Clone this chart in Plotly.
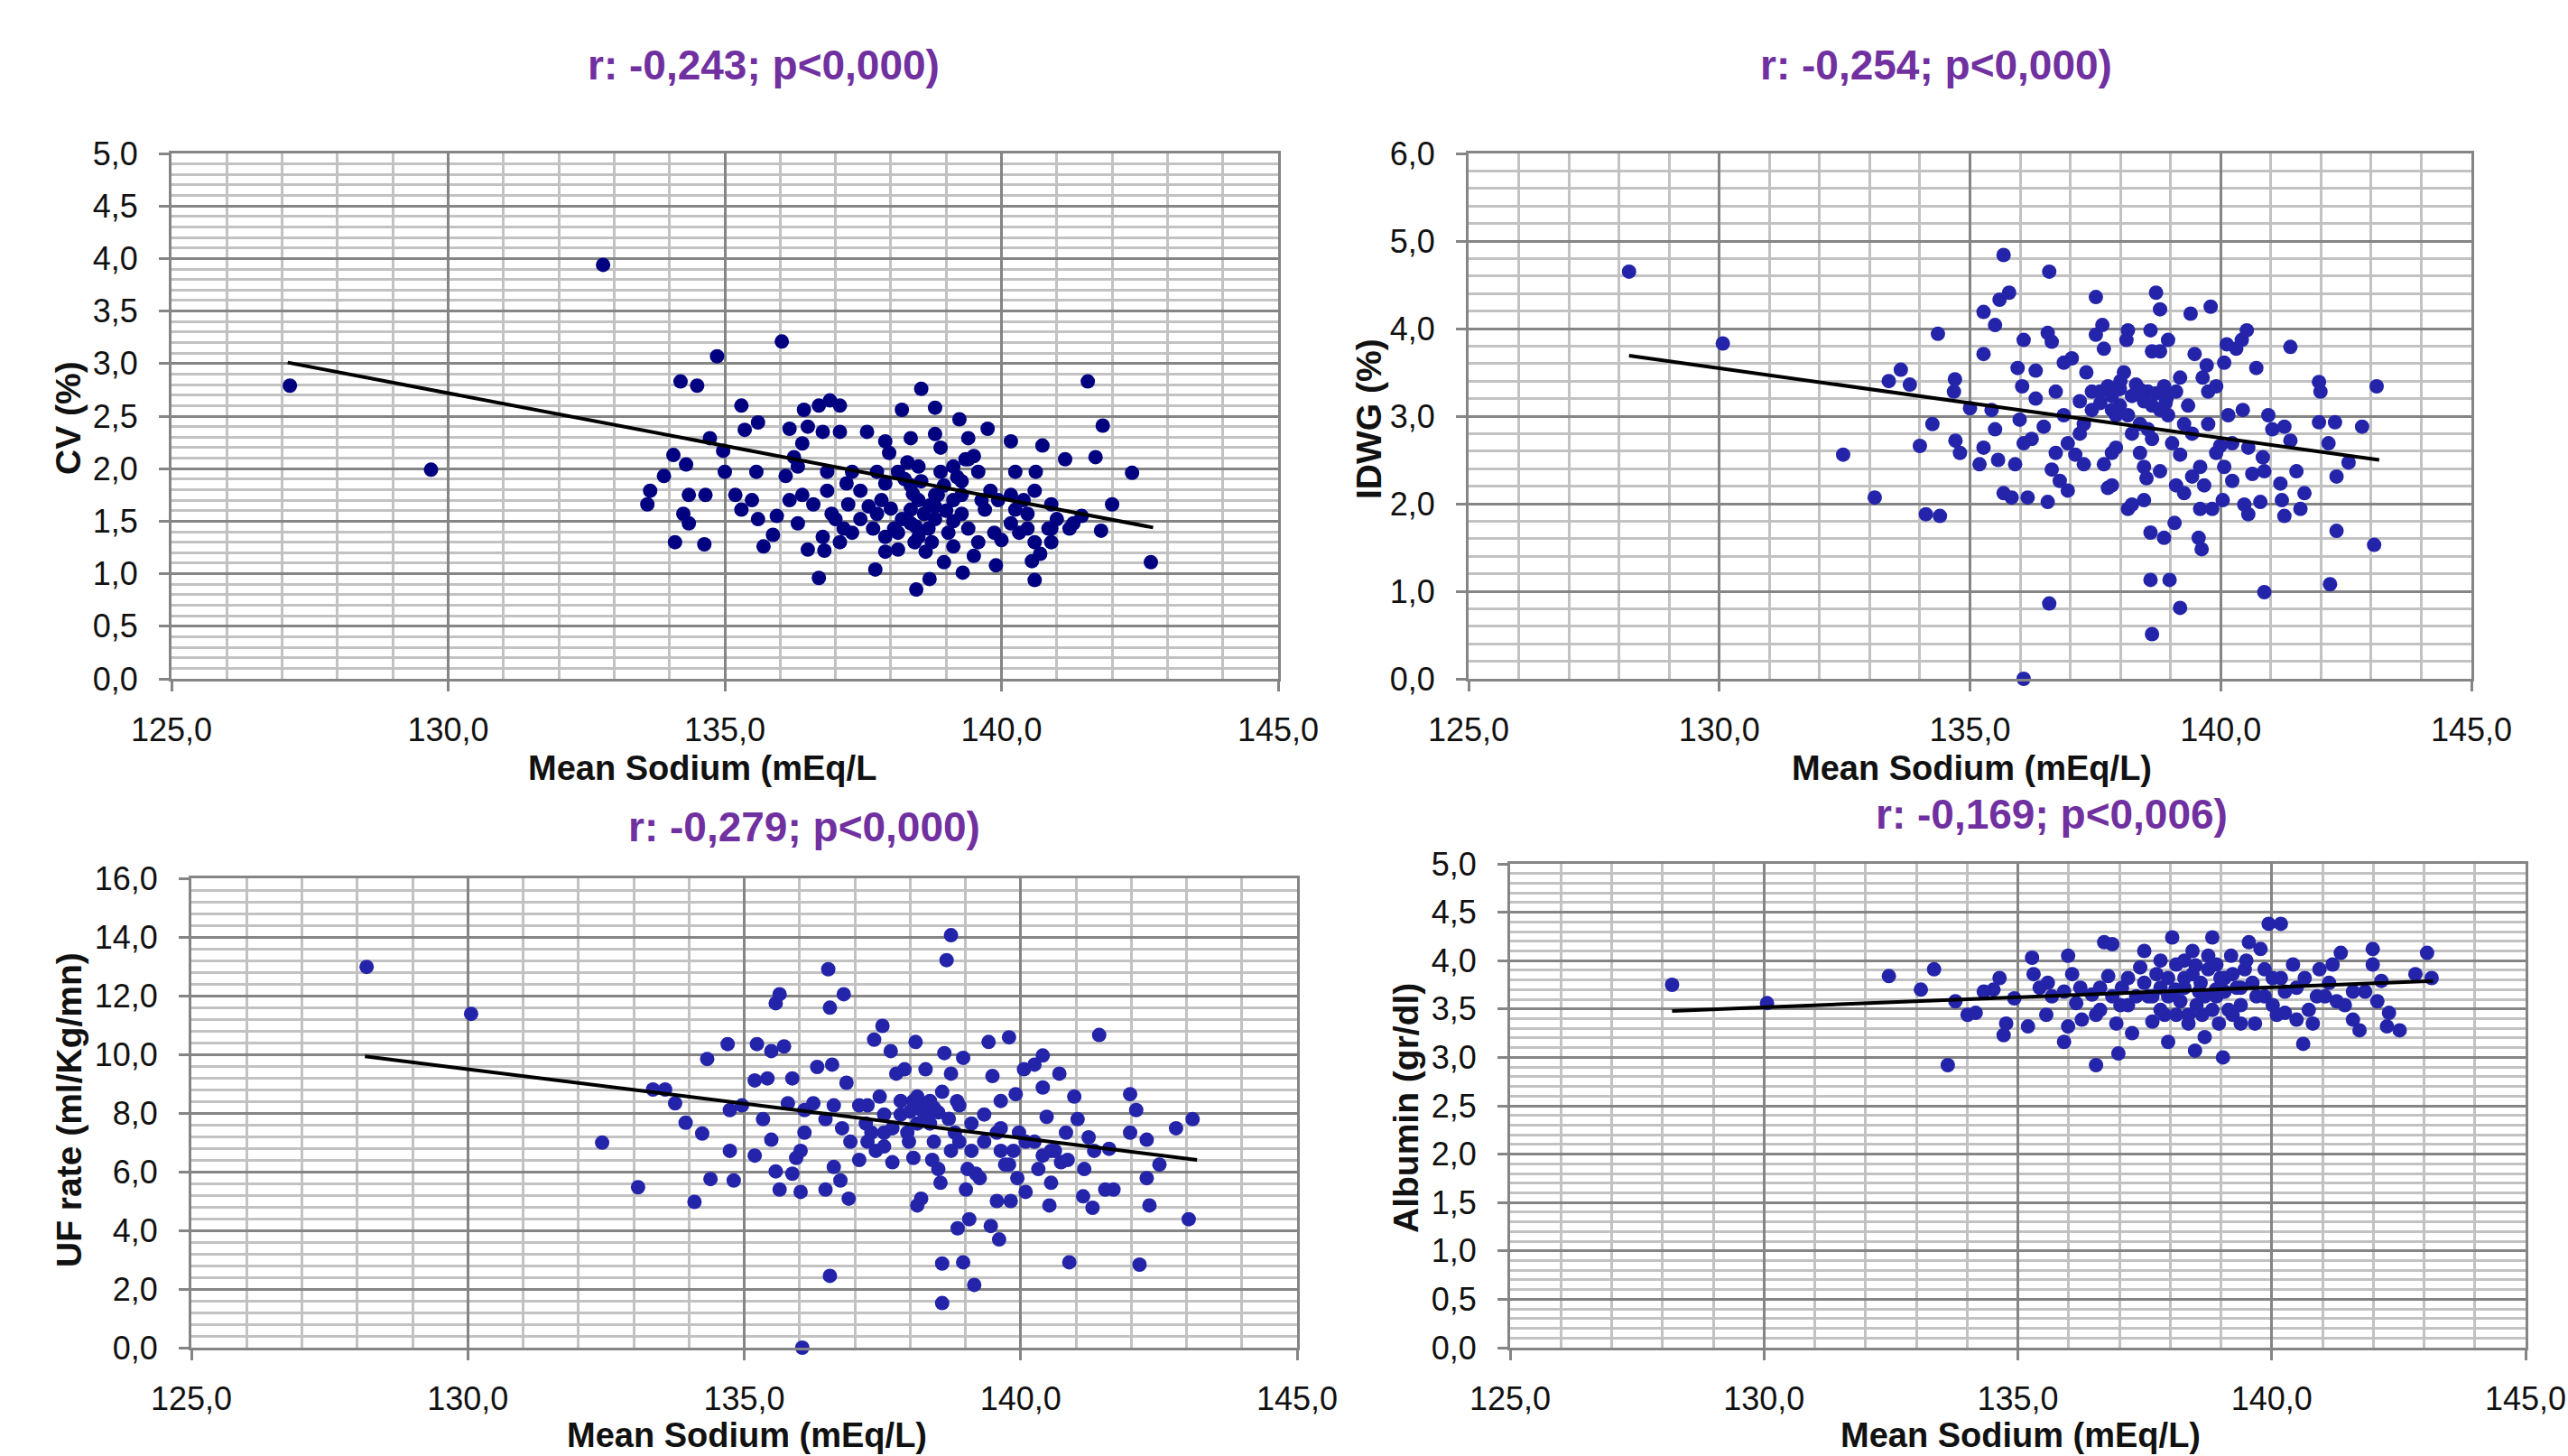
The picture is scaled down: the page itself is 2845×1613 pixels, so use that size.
import plotly.graph_objects as go

# ---------------- DATA ----------------
na_tickvals = [125, 130, 135, 140, 145]
na_ticktext = ["125,0", "130,0", "135,0", "140,0", "145,0"]

cv_tickvals = [0, 0.5, 1, 1.5, 2, 2.5, 3, 3.5, 4, 4.5, 5]
cv_ticktext = ["0,0", "0,5", "1,0", "1,5", "2,0", "2,5", "3,0", "3,5", "4,0", "4,5", "5,0"]
idwg_tickvals = [0, 1, 2, 3, 4, 5, 6]
idwg_ticktext = ["0,0", "1,0", "2,0", "3,0", "4,0", "5,0", "6,0"]
uf_tickvals = [0, 2, 4, 6, 8, 10, 12, 14, 16]
uf_ticktext = ["0,0", "2,0", "4,0", "6,0", "8,0", "10,0", "12,0", "14,0", "16,0"]
alb_tickvals = [0, 0.5, 1, 1.5, 2, 2.5, 3, 3.5, 4, 4.5, 5]
alb_ticktext = ["0,0", "0,5", "1,0", "1,5", "2,0", "2,5", "3,0", "3,5", "4,0", "4,5", "5,0"]

titles = ["r: -0,243; p<0,000)", "r: -0,254; p<0,000)", "r: -0,279; p<0,000)", "r: -0,169; p<0,006)"]
x_titles = ["Mean Sodium (mEq/L", "Mean Sodium (mEq/L)", "Mean Sodium (mEq/L)", "Mean Sodium (mEq/L)"]
y_titles = ["CV (%)", "IDWG (%)", "UF rate (ml/Kg/mn)", "Albumin (gr/dl)"]

# (mean sodium, value) pairs
cv_pts = [
    (127.14, 2.79), (129.69, 1.99), (132.8, 3.94), (136.03, 3.21), (134.86, 3.07), (134.2, 2.83),
    (134.5, 2.79), (138.55, 2.76), (141.56, 2.83), (141.83, 2.41), (142.36, 1.96), (142.7, 1.11),
    (138.46, 0.85), (136.7, 0.96), (137.72, 1.04), (138.7, 0.95), (139.3, 1.01), (139.9, 1.08),
    (140.6, 0.94), (138.96, 1.11), (134.1, 1.30), (134.63, 1.28), (133.6, 1.66), (133.65, 1.79),
    (133.9, 1.93), (134.07, 2.13), (134.3, 2.04), (134.35, 1.75), (134.25, 1.57), (134.35, 1.48),
    (134.65, 1.75), (134.73, 2.29), (134.97, 2.17), (135.0, 1.97), (135.3, 2.60), (135.36, 2.37),
    (135.6, 2.44), (135.57, 1.97), (135.19, 1.75), (135.3, 1.61), (135.6, 1.52), (135.7, 1.26),
    (135.87, 1.37), (135.94, 1.55), (136.17, 2.38), (136.25, 2.11), (136.4, 2.24), (136.43, 2.56),
    (136.5, 2.40), (136.7, 2.60), (136.9, 2.65), (137.08, 2.60), (136.77, 2.35), (137.08, 2.35),
    (137.57, 2.35), (138.2, 2.56), (138.8, 2.58), (139.24, 2.47), (139.75, 2.38), (140.17, 2.26),
    (140.74, 2.22), (141.15, 2.09), (141.7, 2.11), (137.9, 2.26), (137.97, 2.15), (138.9, 2.20),
    (139.35, 2.09), (139.5, 2.12), (136.1, 1.93), (136.4, 1.75), (136.32, 1.48), (136.5, 1.23),
    (136.77, 1.35), (137.08, 1.30), (137.0, 1.52), (137.23, 1.66), (137.45, 1.79), (137.75, 1.97),
    (137.9, 1.86), (138.13, 1.97), (138.36, 1.84), (138.5, 1.70), (138.6, 1.57), (138.68, 1.43),
    (138.74, 1.30), (138.63, 1.21), (138.13, 1.23), (137.9, 1.35), (137.68, 1.43), (137.45, 1.52),
    (137.3, 1.39), (138.2, 1.52), (138.36, 1.61), (138.9, 1.97), (138.96, 1.84), (139.13, 1.70),
    (139.28, 1.57), (139.4, 1.43), (139.58, 1.30), (139.5, 1.17), (139.13, 1.26), (139.7, 1.61),
    (139.94, 1.70), (140.17, 1.75), (140.4, 1.70), (140.6, 1.79), (140.9, 1.66), (141.0, 1.52),
    (140.85, 1.43), (140.6, 1.30), (140.47, 1.43), (140.17, 1.48), (140.0, 1.32), (140.7, 1.19),
    (140.9, 1.30), (141.3, 1.48), (141.45, 1.55), (141.8, 1.41), (142.0, 1.66), (141.23, 1.43),
    (139.58, 1.97), (139.4, 2.09), (139.28, 1.88), (139.13, 2.02), (138.5, 2.02), (138.3, 2.06),
    (137.83, 1.70), (137.6, 1.64), (136.85, 1.79), (136.6, 1.66), (136.93, 1.57), (137.15, 1.43),
    (138.06, 1.43), (138.5, 1.35), (138.8, 1.52), (139.04, 1.39), (139.87, 1.39), (140.25, 1.61),
    (140.47, 1.57), (138.4, 1.76), (138.55, 1.88), (138.7, 1.65), (138.45, 1.45), (138.85, 1.75),
    (138.13, 1.39), (138.43, 1.30), (137.9, 1.21), (139.64, 1.70), (139.8, 1.79), (139.28, 1.75),
    (138.8, 1.75), (138.8, 1.64), (139.13, 1.50), (138.36, 1.48), (137.75, 1.57), (137.3, 1.97),
    (136.85, 1.97), (136.32, 2.02), (135.49, 1.70), (136.17, 1.70), (140.9, 1.43), (140.32, 1.39),
    (140.55, 1.12), (138.36, 2.29), (138.8, 2.33), (139.4, 2.29), (140.25, 1.97), (140.62, 1.97),
    (136.8, 1.22), (137.2, 1.86), (138.0, 1.62), (138.25, 1.90), (139.0, 1.60), (139.2, 1.92),
]

idwg_pts = [
    (128.2, 4.65), (130.07, 3.83), (132.47, 2.56), (133.1, 2.07), (133.38, 3.40), (133.62, 3.53),
    (133.8, 3.36), (134.0, 2.66), (134.12, 1.88), (134.4, 1.86), (134.25, 2.91), (134.36, 3.94),
    (134.7, 3.42), (134.68, 3.28), (134.71, 2.72), (134.8, 2.58), (135.0, 3.09), (135.19, 2.45),
    (135.27, 3.71), (135.27, 4.19), (135.27, 2.64), (135.5, 4.04), (135.59, 4.33), (135.78, 4.41),
    (135.67, 4.84), (135.43, 3.07), (135.5, 2.85), (135.56, 2.50), (135.67, 2.12), (135.83, 2.07),
    (135.9, 2.45), (135.95, 3.55), (136.07, 3.87), (136.04, 3.34), (135.99, 2.96), (136.07, 2.69),
    (136.15, 2.07), (136.07, 0.0), (136.31, 3.52), (136.31, 3.20), (136.47, 2.88), (136.55, 2.02),
    (136.58, 4.65), (136.55, 3.95), (136.63, 3.85), (136.58, 0.86), (136.63, 2.39), (136.79, 2.26),
    (136.95, 2.15), (136.87, 3.61), (137.03, 3.66), (136.71, 3.28), (136.87, 3.01), (136.95, 2.69),
    (137.1, 2.56), (137.27, 2.45), (137.27, 2.91), (137.32, 3.50), (137.51, 4.36), (137.51, 3.93),
    (137.64, 4.04), (137.67, 3.77), (137.59, 3.28), (137.43, 3.07), (137.75, 3.34), (137.67, 2.45),
    (137.75, 2.18), (137.83, 2.21), (137.91, 2.64), (137.99, 3.12), (138.07, 3.50), (138.12, 3.87),
    (138.15, 3.98), (138.23, 3.23), (138.23, 2.80), (138.15, 1.94), (138.23, 1.99), (138.39, 2.58),
    (138.47, 2.42), (138.52, 2.29), (138.55, 3.28), (138.6, 3.98), (138.63, 3.74), (138.71, 4.41),
    (138.79, 4.22), (138.79, 3.74), (138.6, 1.67), (138.6, 1.13), (138.63, 0.51), (138.87, 1.61),
    (138.98, 1.13), (139.08, 1.78), (139.19, 0.81), (138.95, 3.87), (138.87, 3.34), (138.95, 3.01),
    (139.03, 2.69), (139.11, 2.21), (139.27, 2.12), (139.19, 2.56), (139.35, 3.12), (139.4, 4.17),
    (139.48, 3.71), (139.56, 1.61), (139.62, 1.48), (139.59, 1.94), (139.67, 2.21), (139.59, 2.42),
    (139.64, 3.44), (139.72, 3.58), (139.75, 3.28), (139.8, 4.25), (139.83, 1.94), (139.91, 3.34),
    (139.99, 2.66), (140.04, 2.04), (140.07, 3.61), (140.12, 3.82), (140.15, 3.01), (140.23, 2.26),
    (140.31, 3.77), (140.42, 3.87), (140.52, 3.98), (140.44, 3.07), (140.47, 1.99), (140.55, 1.88),
    (140.63, 2.34), (140.71, 3.55), (140.79, 2.02), (140.84, 2.53), (140.87, 0.99), (140.95, 3.01),
    (141.03, 2.85), (141.19, 2.23), (141.22, 2.04), (141.27, 1.86), (141.27, 2.88), (141.39, 3.79),
    (141.39, 2.72), (141.51, 2.37), (141.59, 1.94), (141.67, 2.12), (141.96, 3.39), (141.99, 3.28),
    (141.96, 2.93), (142.15, 2.69), (142.18, 1.08), (142.28, 2.93), (142.31, 2.31), (142.31, 1.69),
    (142.55, 2.47), (142.82, 2.88), (143.11, 3.34), (143.06, 1.53), (137.83, 3.23), (137.99, 3.31),
    (138.31, 3.36), (138.47, 3.17), (138.63, 3.12), (138.71, 3.26), (138.79, 3.07), (138.92, 3.20),
    (137.83, 3.07), (138.15, 3.01), (138.39, 2.91), (138.55, 2.85), (138.63, 2.74),
    (137.19, 3.17), (137.43, 3.28), (137.91, 3.01), (139.11, 3.28), (139.19, 3.44), (139.27, 2.91),
    (139.43, 2.80), (139.75, 2.91), (139.91, 2.58), (140.07, 2.42), (140.23, 2.69), (138.79, 2.37),
    (138.47, 2.04), (139.43, 2.31), (137.83, 2.58), (137.19, 2.80), (136.71, 2.58), (136.23, 2.74),
    (140.87, 2.37), (140.55, 2.64), (138.0, 3.40), (138.4, 3.30), (138.9, 3.15), (137.6, 3.15),
]

uf_pts = [
    (128.17, 12.98), (130.06, 11.38), (132.43, 6.99), (133.08, 5.47), (133.35, 8.8), (133.57, 8.8),
    (133.75, 8.33), (133.94, 7.67), (134.1, 4.97), (134.24, 7.30), (134.33, 9.84), (134.39, 5.75),
    (134.7, 10.35), (134.74, 8.10), (134.74, 6.71), (134.81, 5.70), (134.96, 8.26), (135.19, 9.11),
    (135.23, 10.35), (135.19, 6.55), (135.34, 7.79), (135.42, 9.18), (135.49, 7.09), (135.49, 10.11),
    (135.57, 11.74), (135.64, 12.05), (135.72, 10.27), (135.57, 6.01), (135.64, 5.39), (135.79, 8.33),
    (135.87, 9.18), (135.87, 5.93), (135.94, 6.47), (136.02, 5.31), (136.05, 0.0), (136.09, 7.33),
    (136.09, 8.10), (136.25, 8.33), (136.32, 9.57), (136.47, 5.39), (136.52, 12.9), (136.55, 11.59),
    (136.55, 2.45), (136.59, 9.65), (136.62, 6.16), (136.74, 5.70), (136.8, 12.05), (136.85, 9.03),
    (136.89, 5.08), (136.92, 7.02), (137.08, 6.40), (137.08, 8.26), (137.2, 7.64), (137.3, 7.33),
    (137.35, 10.5), (137.5, 10.97), (137.45, 8.56), (137.53, 6.86), (137.65, 10.11), (137.68, 6.32),
    (137.75, 9.34), (137.83, 7.95), (137.9, 9.49), (137.98, 7.02), (138.06, 6.47), (138.1, 10.42),
    (138.13, 4.85), (138.2, 5.08), (138.25, 8.26), (138.28, 9.49), (138.36, 7.64), (138.4, 6.40),
    (138.51, 6.09), (138.55, 5.62), (138.58, 2.87), (138.58, 1.52), (138.62, 10.04), (138.66, 13.21),
    (138.74, 14.06), (138.74, 9.34), (138.81, 7.33), (138.86, 4.07), (138.89, 8.26), (138.96, 9.88),
    (138.96, 2.91), (139.01, 5.39), (139.07, 4.38), (139.11, 6.71), (139.16, 2.14), (139.26, 5.78),
    (139.34, 7.02), (139.42, 10.42), (139.49, 9.26), (139.46, 4.15), (139.57, 5.0), (139.61, 3.69),
    (139.64, 8.41), (139.72, 6.24), (139.79, 10.58), (139.82, 5.0), (139.91, 8.64), (139.97, 7.33),
    (140.06, 9.49), (140.09, 5.31), (140.25, 9.65), (140.32, 6.09), (140.4, 9.96), (140.47, 7.87),
    (140.52, 4.85), (140.55, 5.62), (140.7, 9.34), (140.73, 6.32), (140.82, 7.33), (140.88, 2.91),
    (140.97, 8.56), (141.03, 7.79), (141.13, 5.16), (141.15, 6.09), (141.23, 7.17), (141.3, 4.77),
    (141.33, 6.71), (141.42, 10.66), (141.53, 5.39), (141.6, 6.78), (141.68, 5.39), (141.98, 8.64),
    (141.98, 7.33), (142.09, 8.1), (142.15, 2.83), (142.28, 7.09), (142.28, 5.78), (142.33, 4.85),
    (142.51, 6.24), (142.81, 7.48), (143.04, 4.38), (143.11, 7.79), (138.06, 8.41), (138.21, 8.10),
    (138.36, 8.41), (138.43, 8.18), (138.51, 8.02), (138.13, 7.64), (137.95, 7.33), (137.53, 7.33),
    (137.38, 6.71), (137.68, 7.48), (137.23, 7.02), (139.34, 7.95), (139.19, 5.93), (139.87, 6.71),
    (140.25, 7.02), (139.57, 7.33), (140.4, 8.87), (140.62, 6.71), (139.94, 5.78), (139.79, 6.24),
    (138.13, 8.56), (138.58, 8.72), (137.83, 8.41), (137.53, 7.95), (137.23, 8.26), (138.89, 7.02),
    (139.11, 7.64), (139.04, 6.09), (139.64, 6.71), (140.09, 7.02), (140.4, 6.55), (140.55, 6.71),
    (140.85, 6.40), (136.77, 7.48), (136.47, 7.79), (136.02, 6.71), (136.62, 8.26), (138.43, 7.02),
    (138.74, 6.71), (139.64, 7.48), (138.3, 7.85), (138.7, 7.80), (138.0, 8.05), (138.85, 8.40),
]

alb_pts = [
    (128.19, 3.75), (130.06, 3.56), (132.46, 3.84), (133.09, 3.70), (133.35, 3.91), (133.62, 2.92),
    (133.77, 3.58), (134.01, 3.44), (134.17, 3.46), (134.33, 3.68), (134.52, 3.70), (134.64, 3.82),
    (134.72, 3.23), (134.77, 3.35), (134.93, 3.61), (135.2, 3.32), (135.28, 4.03), (135.31, 3.86),
    (135.43, 3.72), (135.56, 3.44), (135.67, 3.63), (135.91, 3.16), (135.99, 4.05), (135.99, 3.32),
    (136.07, 3.86), (136.15, 3.56), (136.26, 3.39), (136.46, 3.65), (136.54, 2.92), (136.62, 3.49),
    (136.7, 4.19), (136.78, 3.84), (136.86, 4.17), (136.94, 3.35), (136.98, 3.04), (137.05, 3.72),
    (137.17, 3.54), (137.25, 3.25), (137.41, 3.93), (137.49, 4.1), (137.57, 3.63), (137.65, 3.37),
    (137.73, 3.86), (137.81, 3.72), (137.89, 3.44), (137.96, 3.16), (138.04, 4.24), (138.12, 3.96),
    (138.2, 3.58), (138.28, 3.82), (138.36, 3.35), (138.44, 4.1), (138.49, 3.07), (138.57, 3.68),
    (138.63, 3.44), (138.68, 3.21), (138.75, 3.91), (138.83, 4.24), (138.91, 3.63), (138.96, 3.35),
    (139.04, 3.0), (139.07, 3.82), (139.2, 4.05), (139.23, 3.44), (139.31, 3.72), (139.39, 3.54),
    (139.47, 3.91), (139.55, 4.19), (139.67, 3.35), (139.78, 4.12), (139.86, 3.63), (139.94, 4.38),
    (140.02, 3.82), (140.1, 3.44), (140.18, 4.38), (140.26, 3.46), (140.42, 3.96), (140.49, 3.72),
    (140.62, 3.14), (140.73, 3.49), (140.81, 3.35), (140.94, 3.91), (141.05, 3.63), (141.2, 3.96),
    (141.36, 4.08), (141.44, 3.54), (141.6, 3.39), (141.73, 3.28), (141.84, 3.68), (141.99, 4.12),
    (141.99, 3.96), (142.08, 3.58), (142.16, 3.79), (142.27, 3.32), (142.31, 3.46), (142.52, 3.28),
    (142.83, 3.86), (143.06, 4.08), (143.15, 3.82), (138.28, 4.0), (138.44, 3.86), (138.6, 3.77),
    (138.75, 4.05), (138.91, 3.96), (139.07, 3.68), (139.23, 3.86), (137.81, 4.0), (137.96, 3.63),
    (138.12, 3.44), (138.52, 3.54), (138.83, 3.49), (139.39, 3.35), (139.62, 3.77), (137.49, 3.77),
    (137.33, 3.63), (137.17, 3.82), (136.86, 3.63), (136.62, 3.72), (136.23, 3.72), (140.26, 3.68),
    (140.49, 3.39), (140.89, 3.63), (141.13, 3.77),
    (138.28, 3.72), (138.68, 3.63), (138.99, 3.82), (139.39, 3.72), (139.7, 3.63), (139.86, 3.91),
    (140.02, 3.54), (140.18, 3.82), (137.96, 3.82), (137.65, 3.63), (137.81, 3.49), (138.36, 3.44),
    (139.15, 3.49), (137.02, 3.54), (136.54, 3.44), (135.91, 3.68), (135.59, 3.77), (140.65, 3.82),
    (141.28, 3.58), (141.6, 3.68), (138.5, 3.95), (138.9, 3.70), (139.5, 4.00), (138.1, 3.70),
]

# linear trend line end points (x start/end, y start/end)
cv_trend_x, cv_trend_y = [127.1, 142.74], [3.01, 1.44]
idwg_trend_x, idwg_trend_y = [128.2, 143.16], [3.69, 2.50]
uf_trend_x, uf_trend_y = [128.14, 143.19], [9.93, 6.40]
alb_trend_x, alb_trend_y = [128.19, 143.18], [3.48, 3.79]

# ---------------- STYLE / LAYOUT ----------------
W, H = 2845, 1613
FONT = "Liberation Sans, Arial, sans-serif"
MAJOR = "#858585"
MINOR = "#c2c2c2"

panels = [
    dict(pts=cv_pts, tx=cv_trend_x, ty=cv_trend_y, color="#000080",
         box=(190, 1416, 170, 752), yr=(0, 5), tv=cv_tickvals, tt=cv_ticktext, ymin=0.1,
         title_xy=(846, 72), xt_xy=(778, 851), yt_xy=(76, 463)),
    dict(pts=idwg_pts, tx=idwg_trend_x, ty=idwg_trend_y, color="#2424AA",
         box=(1627, 2738, 170, 752), yr=(0, 6), tv=idwg_tickvals, tt=idwg_ticktext, ymin=0.2,
         title_xy=(2145, 72), xt_xy=(2184, 851), yt_xy=(1517, 464)),
    dict(pts=uf_pts, tx=uf_trend_x, ty=uf_trend_y, color="#2424AA",
         box=(212, 1437, 973, 1493), yr=(0, 16), tv=uf_tickvals, tt=uf_ticktext, ymin=0.4,
         title_xy=(891, 916), xt_xy=(827, 1590), yt_xy=(76, 1230)),
    dict(pts=alb_pts, tx=alb_trend_x, ty=alb_trend_y, color="#2424AA",
         box=(1673, 2798, 957, 1493), yr=(0, 5), tv=alb_tickvals, tt=alb_ticktext, ymin=0.1,
         title_xy=(2273, 902), xt_xy=(2238, 1590), yt_xy=(1557, 1228)),
]

fig = go.Figure()
annotations = []
layout = dict(
    width=W, height=H, autosize=False,
    margin=dict(l=0, r=0, t=0, b=0, autoexpand=False),
    paper_bgcolor="white", plot_bgcolor="white",
    showlegend=False,
    font=dict(family=FONT, color="#111111"),
)

for i, p in enumerate(panels):
    n = "" if i == 0 else str(i + 1)
    xs = [a for a, b in p["pts"]]
    ys = [b for a, b in p["pts"]]
    fig.add_trace(go.Scatter(
        x=xs, y=ys, mode="markers", xaxis="x" + n, yaxis="y" + n, cliponaxis=False,
        marker=dict(color=p["color"], size=16, symbol="circle", line=dict(width=0)),
        hoverinfo="skip"))
    fig.add_trace(go.Scatter(
        x=p["tx"], y=p["ty"], mode="lines", xaxis="x" + n, yaxis="y" + n,
        line=dict(color="black", width=4), hoverinfo="skip"))

    x0, x1, y0, y1 = p["box"]
    layout["xaxis" + n] = dict(
        domain=[x0 / W, x1 / W], anchor="y" + n, range=[125, 145], automargin=False,
        tickmode="array", tickvals=na_tickvals, ticktext=na_ticktext,
        showgrid=True, gridcolor=MAJOR, gridwidth=3,
        minor=dict(tickmode="linear", tick0=125, dtick=1, showgrid=True,
                   gridcolor=MINOR, gridwidth=3, ticks=""),
        showline=True, linecolor=MAJOR, linewidth=3, mirror=True,
        ticks="outside", ticklen=11, tickwidth=3, tickcolor=MAJOR,
        tickfont=dict(family=FONT, size=36, color="#111111"),
        ticklabelstandoff=12, zeroline=False, fixedrange=True,
    )
    layout["yaxis" + n] = dict(
        domain=[1 - y1 / H, 1 - y0 / H], anchor="x" + n, range=list(p["yr"]), automargin=False,
        tickmode="array", tickvals=p["tv"], ticktext=p["tt"],
        showgrid=True, gridcolor=MAJOR, gridwidth=3,
        minor=dict(tickmode="linear", tick0=0, dtick=p["ymin"], showgrid=True,
                   gridcolor=MINOR, gridwidth=2.5, ticks=""),
        showline=True, linecolor=MAJOR, linewidth=3, mirror=True,
        ticks="outside", ticklen=11, tickwidth=3, tickcolor=MAJOR,
        tickfont=dict(family=FONT, size=36, color="#111111"),
        ticklabelstandoff=16, zeroline=False, fixedrange=True,
    )

    tx, ty = p["title_xy"]
    annotations.append(dict(
        text="<b>" + titles[i] + "</b>", x=tx / W, y=1 - ty / H, xref="paper", yref="paper",
        xanchor="center", yanchor="middle", showarrow=False,
        font=dict(family=FONT, size=46, color="#7030A0")))
    ax_, ay_ = p["xt_xy"]
    annotations.append(dict(
        text="<b>" + x_titles[i] + "</b>", x=ax_ / W, y=1 - ay_ / H, xref="paper", yref="paper",
        xanchor="center", yanchor="middle", showarrow=False,
        font=dict(family=FONT, size=38, color="#111111")))
    yx, yy = p["yt_xy"]
    annotations.append(dict(
        text="<b>" + y_titles[i] + "</b>", x=yx / W, y=1 - yy / H, xref="paper", yref="paper",
        xanchor="center", yanchor="middle", showarrow=False, textangle=-90,
        font=dict(family=FONT, size=39, color="#111111")))

layout["annotations"] = annotations
fig.update_layout(**layout)
fig.write_html(
    "out.html",
    config={"displayModeBar": False},
    post_script="document.body.style.margin='0px';document.body.style.padding='0px';"
                "document.body.style.overflow='hidden';",
)
